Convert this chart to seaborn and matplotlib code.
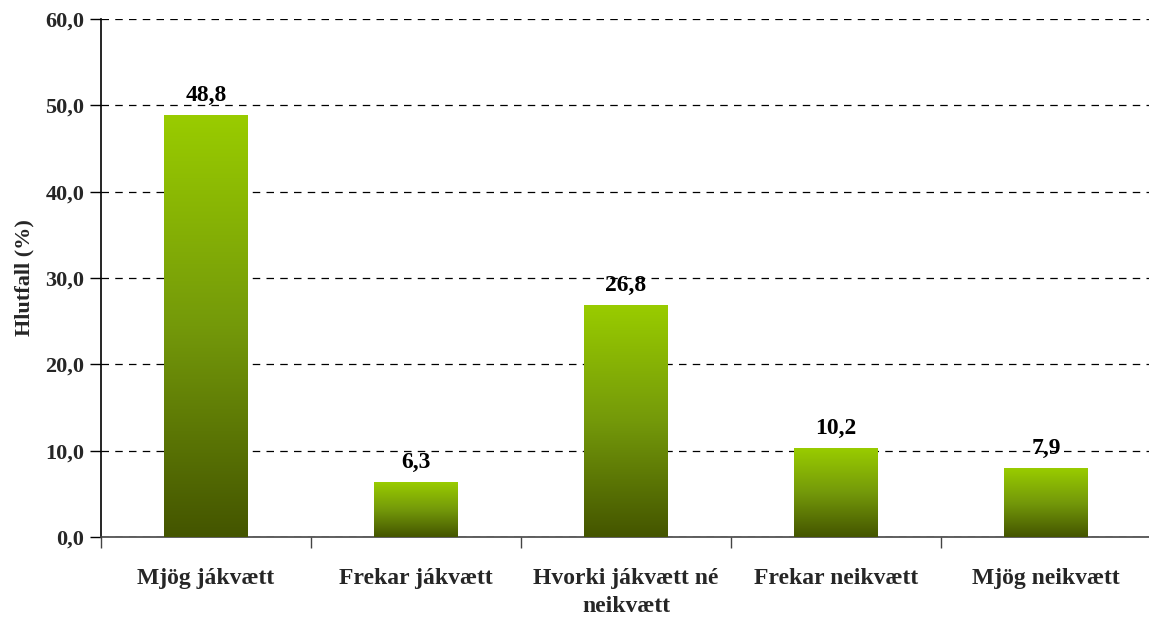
import numpy as np
import pandas as pd
import matplotlib
matplotlib.use("Agg")
import matplotlib.pyplot as plt
import seaborn as sns
from matplotlib.colors import LinearSegmentedColormap
from matplotlib.ticker import FixedLocator, FuncFormatter

# Gögn
categories = ["Mjög jákvætt", "Frekar jákvætt", "Hvorki jákvætt né\nneikvætt",
              "Frekar neikvætt", "Mjög neikvætt"]
values = [48.8, 6.3, 26.8, 10.2, 7.9]
y_ticks = [0, 10, 20, 30, 40, 50, 60]

df = pd.DataFrame({"category": categories, "value": values})

sns.set_style("white")
plt.rcParams["font.family"] = ["Liberation Serif", "DejaVu Serif"]
plt.rcParams["font.weight"] = "bold"

fig = plt.figure(figsize=(11.49, 6.19), dpi=100)
ax = fig.add_axes([101 / 1149, 1 - 537 / 619, 1050 / 1149, (537 - 19) / 619])

sns.barplot(data=df, x="category", y="value", ax=ax, width=0.4,
            color="#99CC00", saturation=1, edgecolor="none")

# Litastigull á súlum
cmap = LinearSegmentedColormap.from_list("grn", ["#445500", "#74990a", "#99CC00"])
grad = np.linspace(0, 1, 256).reshape(-1, 1)
for bar in ax.patches:
    x0, y0 = bar.get_x(), bar.get_y()
    w, h = bar.get_width(), bar.get_height()
    bar.set_facecolor("none")
    ax.imshow(grad, cmap=cmap, origin="lower", aspect="auto",
              extent=(x0, x0 + w, y0, y0 + h), zorder=3, interpolation="bilinear")

ax.set_xlim(-0.5, len(categories) - 0.5)
ax.set_ylim(0, 60)

# Gildi ofan á súlum
ax.bar_label(ax.containers[0], labels=[f"{v:.1f}".replace(".", ",") for v in values],
             padding=7, fontsize=17, fontweight="bold", color="black", zorder=5)

# Ásar og hnitalínur
ax.yaxis.set_major_locator(FixedLocator(y_ticks))
ax.yaxis.set_major_formatter(FuncFormatter(lambda v, p: f"{v:.1f}".replace(".", ",")))
ax.grid(axis="y", color="black", linestyle=(0, (6, 5)), linewidth=0.9)
ax.set_axisbelow(True)

ax.set_xticks(range(len(categories)))
ax.set_xticklabels(categories, fontsize=17, fontweight="bold", linespacing=1.45)
ax.xaxis.set_minor_locator(FixedLocator(np.arange(-0.5, len(categories), 1.0)))
ax.tick_params(axis="x", which="major", bottom=True, length=0, pad=22)
ax.tick_params(axis="x", which="minor", bottom=True, length=8, width=1,
               color="#444444", direction="out")
ax.tick_params(axis="y", left=True, length=8, width=1, color="black",
               direction="out", labelsize=16, pad=4)
for lab in ax.get_yticklabels():
    lab.set_fontweight("bold")

ax.set_xlabel("")
ax.set_ylabel("Hlutfall (%)", fontsize=16, fontweight="bold", labelpad=8)

for side in ["top", "right"]:
    ax.spines[side].set_visible(False)
ax.spines["left"].set_color("black")
ax.spines["bottom"].set_color("#444444")
ax.spines["left"].set_linewidth(1.2)
ax.spines["bottom"].set_linewidth(1.2)

fig.savefig("out.png", dpi=100)
